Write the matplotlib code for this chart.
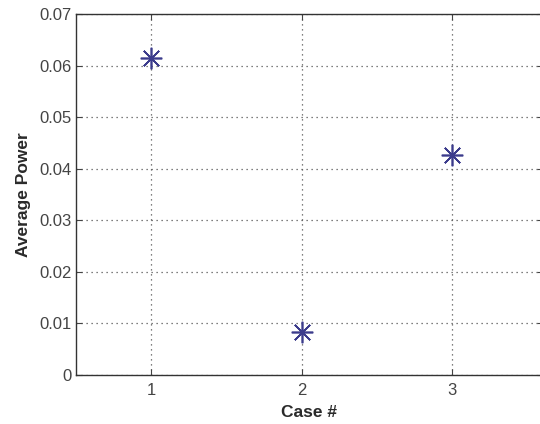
import matplotlib
matplotlib.use("Agg")
import matplotlib.pyplot as plt

# Average power for each test case
cases = [1, 2, 3]
avg_power = [0.0614, 0.0083, 0.0427]

x_ticks = [1, 2, 3]
x_tick_labels = ["1", "2", "3"]
y_ticks = [0, 0.01, 0.02, 0.03, 0.04, 0.05, 0.06, 0.07]
y_tick_labels = ["0", "0.01", "0.02", "0.03", "0.04", "0.05", "0.06", "0.07"]

plt.rcParams["font.family"] = ["Liberation Sans", "DejaVu Sans"]

fig = plt.figure(figsize=(5.4, 4.24), dpi=100)
W, H = 540, 424
left_px, top_px, bottom_px = 76, 14, 375
px_per_case = 150.5
xmin, xmax = 0.5, 3.6
ax = fig.add_axes([left_px / W, 1 - bottom_px / H,
                   (xmax - xmin) * px_per_case / W, (bottom_px - top_px) / H])

ax.plot(cases, avg_power, linestyle="none", marker=(8, 2, 0),
        markersize=15.5, markeredgewidth=1.2, color="#3b3b8c")

ax.set_xlim(xmin, xmax)
ax.set_ylim(0, 0.07)
ax.set_xticks(x_ticks)
ax.set_xticklabels(x_tick_labels)
ax.set_yticks(y_ticks)
ax.set_yticklabels(y_tick_labels)

ax.grid(True, linestyle=(0, (1, 3)), color="#555555", linewidth=0.9)
ax.tick_params(direction="in", top=True, right=True, length=4,
               labelsize=12, colors="#444444")
ax.tick_params(axis="y", pad=3)
ax.tick_params(axis="x", pad=6)
for sp in ax.spines.values():
    sp.set_color("#333333")
    sp.set_linewidth(1.0)

ax.set_xlabel("Case #", fontsize=12.5, fontweight="bold", color="#2a2a2a", labelpad=5)
ax.set_ylabel("Average Power", fontsize=12.5, fontweight="bold", color="#2a2a2a", labelpad=6)

fig.savefig("out.png", dpi=100)
